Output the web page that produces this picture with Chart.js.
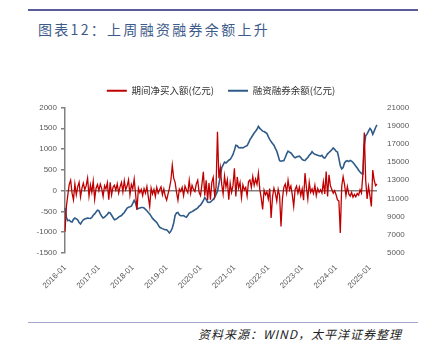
<!DOCTYPE html>
<html>
<head>
<meta charset="utf-8">
<script src="https://cdn.jsdelivr.net/npm/chart.js@4/dist/chart.umd.min.js"></script>
<style>
  html, body { margin: 0; padding: 0; background: #fff; }
  #page { position: relative; width: 428px; height: 353px; overflow: hidden; background: #fff; }
  #topLine { position: absolute; left: 28px; top: 9px; width: 390px; height: 2px; background: #5a5c9c; }
  #title { position: absolute; left: 38px; top: 22px; font: 14px/14px "Noto Sans CJK SC", sans-serif; letter-spacing: 2.3px; color: #3d5b8a; white-space: nowrap; }
  #chartBox { position: absolute; left: 0; top: 72px; width: 428px; height: 221px; }
  #bottomLine { position: absolute; left: 28px; top: 322px; width: 390px; height: 1px; background: #a3a6c9; }
  #source { position: absolute; left: 198px; top: 327px; font: italic 12px/14px "Noto Sans CJK SC", sans-serif; letter-spacing: 1px; color: #222; white-space: nowrap; }
</style>
</head>
<body>
<div id="page">
  <div id="topLine"></div>
  <div id="title">图表12：上周融资融券余额上升</div>
  <div id="chartBox"><canvas id="chart"></canvas></div>
  <div id="bottomLine"></div>
  <div id="source">资料来源：WIND，太平洋证券整理</div>
</div>
<script>
// half-month periods, 2016-01 .. 2025-03
const periods = [];
for (let y = 2016; y <= 2025; y++) {
  for (let m = 1; m <= 12; m++) {
    if (y === 2025 && m > 3) break;
    const mm = String(m).padStart(2, '0');
    periods.push(`${y}-${mm}-01`, `${y}-${mm}-15`);
  }
}

const seriesNames = ['期间净买入额(亿元)', '融资融券余额(亿元)'];

// 期间净买入额 (亿元), left axis
const netBuy = [
  -985, -380, -100, 150, 250, -60, -220, 160, -100, 90, 200, -150, 60, 180, 20, 120, 300, -130, 140, -40, 230, -210, 60, 150,
  0, 160, 50, -140, 120, 40, 190, -220, 200, -100, 80, 130, 10, 160, -60, 90, 200, -30, 240, 20, 110, 260, -100, 150,
  40, 280, -80, -460, 60, -50, 30, -120, 50, -60, 100, -150, -380, 60, -80, 30, -140, 80, -60, 20, 90, -100, 40, -130,
  -230, -80, 60, 250, 610, 300, 200, -40, -230, 40, -20, 80, -120, 110, 20, -50, 250, -60, 130, 30, -20, 160, 250, -40,
  -120, 150, 455, -120, 250, -230, 180, -220, 200, 320, -120, 80, 1415, 300, 550, 150, -80, 350, 90, 260, -220, 180, -40, 120,
  537, -140, 330, 60, 200, -170, 140, 20, 80, -130, 220, 260, 80, 340, 130, 280, 150, 420, 30, -180, -450, 10, -100, -30,
  -200, 50, -660, -150, 60, -60, -250, 30, -120, -860, -200, 80, 160, -50, 250, 20, 110, -100, -380, 30, 110, -60, 80, -120,
  40, -230, 420, 80, -200, 200, -40, 40, -70, 130, -120, 50, -40, 20, -60, 210, -80, 460, -140, 380, 120, 30, -60, 0,
  -100, -220, -250, -1020, 100, 336, 150, -120, 100, -80, -130, -40, -160, -90, -150, -70, -110, 20, -60, 400, 1400, 250, -200, 100,
  -120, -380, 495, 250, 120, 160
];

// 融资融券余额 (亿元), right axis
const balance = [
  9950, 8900, 8560, 8620, 8450, 8400, 8700, 8850, 8750, 8640, 8350, 8200, 8450, 8650, 8730, 8800, 8850, 8820, 8800, 8900, 9150, 9300, 9500, 9700,
  9650, 9300, 9050, 8850, 8950, 9100, 9250, 9450, 9400, 9150, 8900, 8650, 8700, 8800, 8950, 9050, 9120, 9300, 9450, 9700, 9950, 10030, 10080, 10150,
  10450, 10800, 10500, 9850, 9900, 9950, 10000, 10000, 9950, 9800, 9650, 9450, 9290, 9050, 8800, 8650, 8500, 8350, 8100, 7850, 7750, 7680, 7620, 7570,
  7550, 7400, 7200, 7400, 7750, 8300, 9150, 9400, 9450, 9200, 9100, 9100, 9120, 9000, 8930, 9150, 9400, 9480, 9550, 9650, 9750, 9830, 9950, 10150,
  10250, 10500, 10750, 11100, 10900, 10600, 10550, 10600, 10750, 10900, 11100, 11450, 11800, 12600, 13400, 14380, 14700, 15000, 14900, 15050, 15200, 15300, 15550, 15840,
  16300, 16850, 16800, 16600, 16560, 16600, 16550, 16650, 16750, 16800, 17100, 17470, 17700, 17950, 18200, 18400, 18600, 18930, 18700, 18550, 18400, 18350, 18250, 18150,
  17800, 17500, 17250, 17050, 16850, 16500, 16200, 15700, 15150, 15100, 15150, 15150, 15500, 15900, 16200, 16100, 16000, 15800, 15600, 15470, 15550, 15600, 15650, 15500,
  15300, 15200, 15180, 15350, 15500, 15750, 15900, 16150, 15950, 15850, 15800, 15750, 15700, 15650, 15750, 15500, 15450, 15650, 15900, 16050, 16200, 16350, 16550, 16400,
  16200, 16100, 15400, 14600, 14250, 14400, 14900, 15100, 15150, 15050, 15180, 15100, 14950, 14750, 14550, 14350, 14100, 13900, 13750, 13700, 16800, 17900, 18100, 18400,
  18700, 18500, 18050, 18400, 18800, 19100
];

const tickFont = { family: '"Liberation Sans", Arial, sans-serif', size: 8 };
const tickGrey = '#595959';
const axisGrey = '#808080';

// a bit more room under the legend
const legendGap = {
  id: 'legendGap',
  beforeInit(chart) {
    const fit = chart.legend.fit;
    chart.legend.fit = function () {
      fit.bind(chart.legend)();
      this.height += 2;
    };
  }
};

new Chart(document.getElementById('chart'), {
  type: 'line',
  data: {
    labels: periods,
    datasets: [
      { label: seriesNames[0], data: netBuy, yAxisID: 'y', borderColor: '#c00000', backgroundColor: '#c00000',
        borderWidth: 1.3, pointRadius: 0, tension: 0 },
      { label: seriesNames[1], data: balance, yAxisID: 'y2', borderColor: '#2f5b89', backgroundColor: '#2f5b89',
        borderWidth: 1.6, pointRadius: 0, tension: 0 }
    ]
  },
  plugins: [legendGap],
  options: {
    responsive: true,
    maintainAspectRatio: false,
    animation: false,
    layout: { padding: 0 },
    plugins: {
      tooltip: { enabled: false },
      legend: {
        position: 'top',
        fullSize: false,
        labels: {
          boxWidth: 20, boxHeight: 2, padding: 14, color: '#333',
          font: { family: '"Noto Sans CJK SC", sans-serif', size: 9.5 },
          generateLabels: (chart) => Chart.defaults.plugins.legend.labels.generateLabels(chart)
            .map(l => ({ ...l, lineWidth: 0 }))
        }
      }
    },
    scales: {
      x: {
        type: 'category',
        offset: false,
        grid: { display: false },
        border: { display: false },
        afterFit: (s) => { s.height = 40; },
        ticks: {
          autoSkip: false, maxRotation: 45, minRotation: 45, padding: 2,
          color: tickGrey, font: tickFont,
          callback: function (v) {
            const l = this.getLabelForValue(v);
            return l.endsWith('-01-01') ? l.slice(0, 7) : '';
          }
        }
      },
      y: {
        position: 'left', min: -1500, max: 2000,
        afterFit: (s) => { s.width = 65; },
        border: { display: true, color: axisGrey, width: 1.5 },
        grid: {
          color: (ctx) => ctx.tick && ctx.tick.value === 0 ? axisGrey : 'rgba(0,0,0,0)',
          lineWidth: 1.5, tickColor: axisGrey, tickLength: 4
        },
        ticks: { stepSize: 500, padding: 4, color: tickGrey, font: tickFont, callback: (v) => String(v) }
      },
      y2: {
        position: 'right', min: 5000, max: 21000,
        afterFit: (s) => { s.width = 51; },
        border: { display: false },
        grid: { display: false, drawOnChartArea: false, drawTicks: false },
        ticks: { stepSize: 2000, padding: 10, color: tickGrey, font: tickFont, callback: (v) => String(v) }
      }
    }
  }
});
</script>
</body>
</html>
